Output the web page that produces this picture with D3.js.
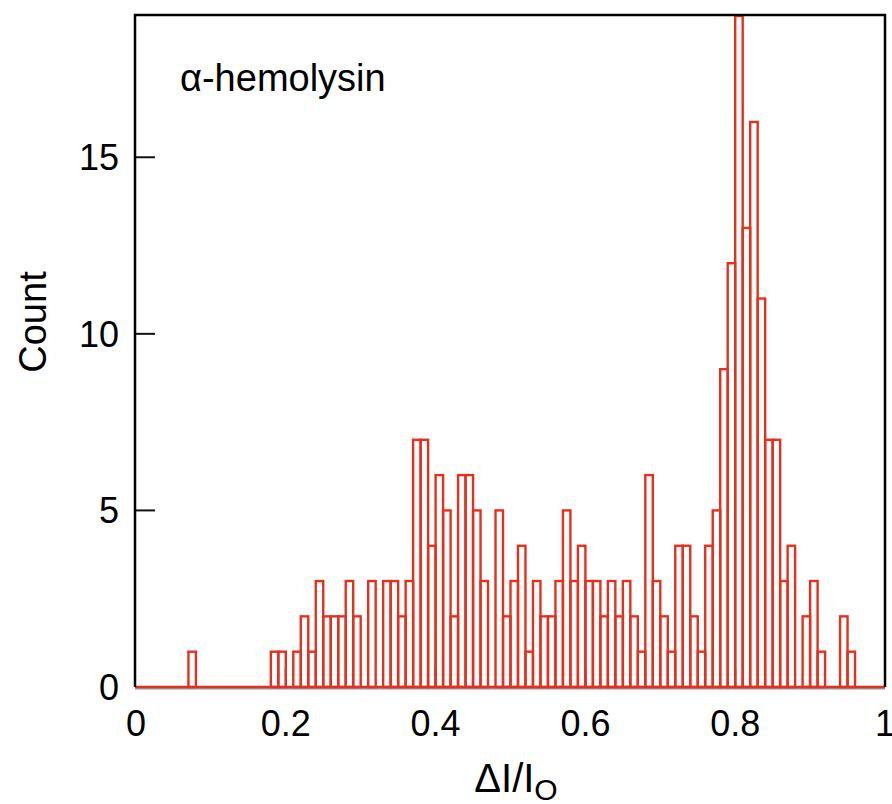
<!DOCTYPE html>
<html>
<head>
<meta charset="utf-8">
<script src="https://cdn.jsdelivr.net/npm/d3@7"></script>
<style>
  html, body { margin: 0; padding: 0; background: #fff; }
  svg { display: block; }
  text { font-family: "Liberation Sans", Arial, Helvetica, sans-serif; fill: #000; }
</style>
</head>
<body>
<svg id="chart" width="892" height="804"></svg>
<script>
// ---- data ----
const binWidth = 0.01;
const counts = [
  0,0,0,0,0,0,0,1,0,0,        // 0.00-0.09
  0,0,0,0,0,0,0,0,1,1,        // 0.10-0.19
  0,1,2,1,3,2,2,2,3,2,        // 0.20-0.29
  0,3,0,3,3,2,3,7,7,4,        // 0.30-0.39
  6,5,2,6,6,5,3,0,5,2,        // 0.40-0.49
  3,4,1,3,2,2,3,5,3,4,        // 0.50-0.59
  3,3,2,3,2,3,2,1,6,3,        // 0.60-0.69
  2,1,4,4,2,1,4,5,9,12,       // 0.70-0.79
  19,13,16,11,7,7,3,4,0,2,    // 0.80-0.89
  3,1,0,0,2,1,0,0,0,0         // 0.90-0.99
];
const xTicks = [0, 0.2, 0.4, 0.6, 0.8, 1];
const xTickLabels = ["0", "0.2", "0.4", "0.6", "0.8", "1"];
const yTicks = [0, 5, 10, 15];
const yTickLabels = ["0", "5", "10", "15"];
const title = "α-hemolysin";
const yLabel = "Count";

(function () {
// ---- layout ----
const svg = d3.select("#chart");
const mLeft = 135, mRight = 885, mTop = 16, mBottom = 687;
const x = d3.scaleLinear().domain([0, 1]).range([mLeft + 1, mRight]);
const y = d3.scaleLinear().domain([0, 19]).range([mBottom, mTop]);
const red = "#e6301e";

const bins = counts.map((c, i) => ({ x0: i * binWidth, x1: (i + 1) * binWidth, c }));

// ticks (drawn under bars)
svg.append("g").selectAll("line").data(xTicks.slice(1, -1)).join("line")
  .attr("x1", d => x(d)).attr("x2", d => x(d))
  .attr("y1", mBottom).attr("y2", mBottom - 19)
  .attr("stroke", "#222").attr("stroke-width", 2);
svg.append("g").selectAll("line").data(yTicks).join("line")
  .attr("x1", mLeft).attr("x2", mLeft + 20)
  .attr("y1", d => y(d)).attr("y2", d => y(d))
  .attr("stroke", "#111").attr("stroke-width", 2);

// bottom axis line (grey)
svg.append("line").attr("x1", mLeft).attr("x2", mRight).attr("y1", mBottom + 1.5).attr("y2", mBottom + 1.5)
  .attr("stroke", "#999").attr("stroke-width", 2);

// bars
svg.append("g").selectAll("rect").data(bins.filter(b => b.c > 0)).join("rect")
  .attr("x", d => x(d.x0))
  .attr("y", d => y(d.c))
  .attr("width", d => x(d.x1) - x(d.x0))
  .attr("height", d => y(0) - y(d.c))
  .attr("fill", "none")
  .attr("stroke", red)
  .attr("stroke-width", 2.4);

// baseline of zero bins
svg.append("line")
  .attr("x1", x(bins[0].x0)).attr("x2", x(bins[bins.length - 1].x1))
  .attr("y1", y(0)).attr("y2", y(0))
  .attr("stroke", red).attr("stroke-width", 2.4);

// frame
svg.append("path")
  .attr("d", `M${mLeft},${mBottom}V${mTop - 1}H${mRight}V${mBottom}`)
  .attr("fill", "none").attr("stroke", "#000").attr("stroke-width", 2.5);

// tick labels
svg.append("g").selectAll("text").data(xTicks).join("text")
  .attr("x", d => x(d)).attr("y", 736)
  .attr("text-anchor", "middle").attr("font-size", 36)
  .text((d, i) => xTickLabels[i]);
svg.append("g").selectAll("text").data(yTicks).join("text")
  .attr("x", 119).attr("y", d => y(d) + 13)
  .attr("text-anchor", "end").attr("font-size", 36)
  .text((d, i) => yTickLabels[i]);

// title
svg.append("text").attr("x", 180).attr("y", 91).attr("font-size", 38).text(title);

// y label
svg.append("text").attr("transform", "translate(46,322) rotate(-90)")
  .attr("text-anchor", "middle").attr("font-size", 38).text(yLabel);

// x label
const xl = svg.append("text").attr("x", 516).attr("y", 792).attr("text-anchor", "middle").attr("font-size", 40);
xl.append("tspan").text("ΔI/I");
xl.append("tspan").attr("font-size", 30).attr("dy", 8).text("O");
})();
</script>
</body>
</html>
